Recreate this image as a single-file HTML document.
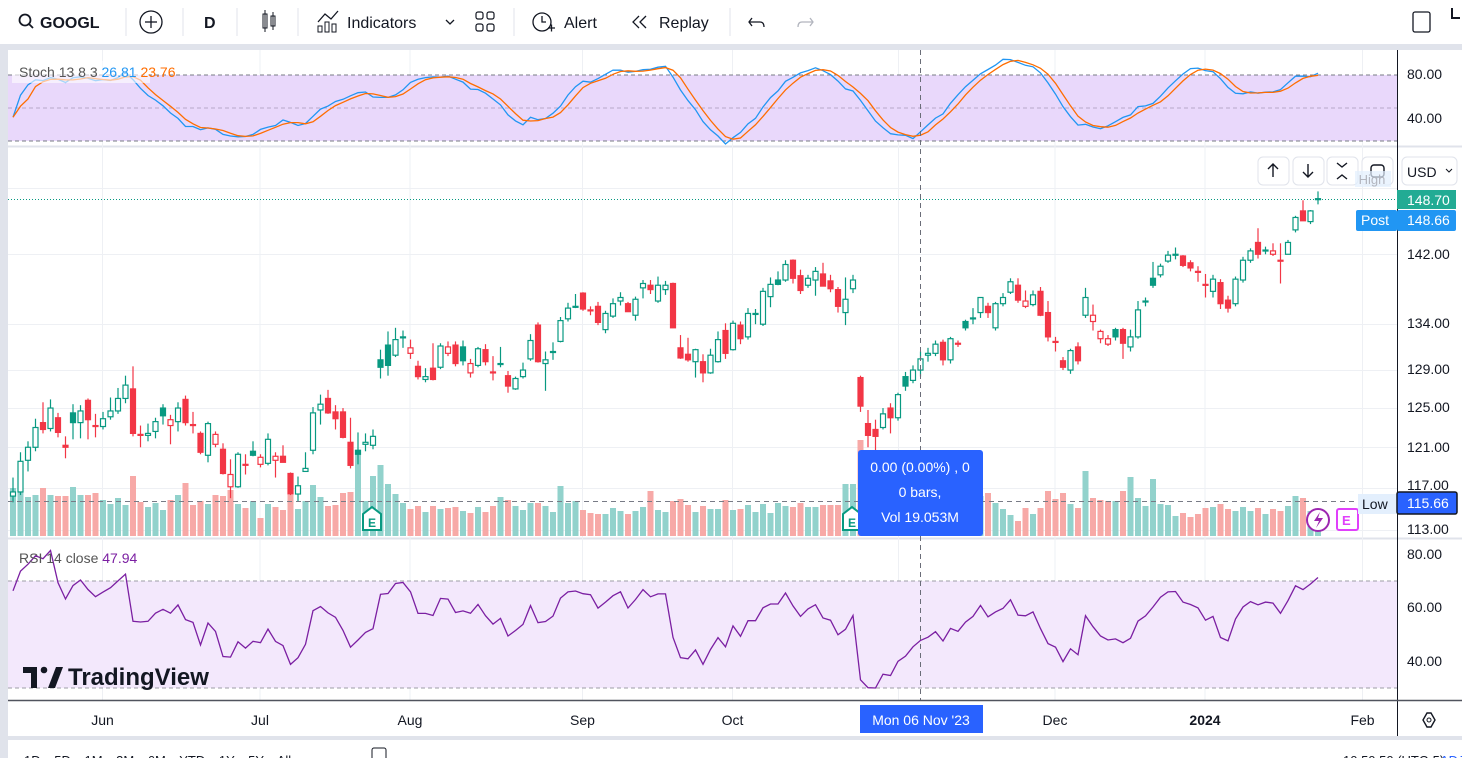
<!DOCTYPE html>
<html><head><meta charset="utf-8"><style>
html,body{margin:0;padding:0;width:1462px;height:758px;overflow:hidden;background:#fff;font-family:"Liberation Sans",sans-serif}
svg text{font-family:"Liberation Sans",sans-serif}
</style></head><body>
<svg id="c" width="1462" height="758" viewBox="0 0 1462 758" xmlns="http://www.w3.org/2000/svg">
<rect x="0" y="0" width="1462" height="758" fill="#fff"/>
<g>
<g><circle cx="25" cy="20" r="5.5" fill="none" stroke="#131722" stroke-width="1.8"/><line x1="29" y1="24" x2="33" y2="28" stroke="#131722" stroke-width="1.8"/><text x="40" y="28" font-size="16" font-weight="bold" fill="#131722">GOOGL</text></g>
<line x1="126" y1="8" x2="126" y2="36" stroke="#e0e3eb"/>
<g><circle cx="151" cy="22" r="11" fill="none" stroke="#131722" stroke-width="1.3"/><line x1="145" y1="22" x2="157" y2="22" stroke="#131722" stroke-width="1.3"/><line x1="151" y1="16" x2="151" y2="28" stroke="#131722" stroke-width="1.3"/></g>
<line x1="183" y1="8" x2="183" y2="36" stroke="#e0e3eb"/>
<text x="204" y="28" font-size="16" font-weight="bold" fill="#131722">D</text>
<line x1="237" y1="8" x2="237" y2="36" stroke="#e0e3eb"/>
<g><rect x="263" y="14" width="4" height="14" fill="none" stroke="#131722"/><line x1="265" y1="10" x2="265" y2="32" stroke="#131722"/><rect x="271" y="16" width="4" height="10" fill="none" stroke="#131722"/><line x1="273" y1="12" x2="273" y2="30" stroke="#131722"/></g>
<line x1="298" y1="8" x2="298" y2="36" stroke="#e0e3eb"/>
<g><path d="M318 22 L325 14 L331 19 L338 11" fill="none" stroke="#131722" stroke-width="1.3"/><rect x="318" y="26" width="4" height="6" fill="none" stroke="#131722"/><rect x="325" y="22" width="4" height="10" fill="none" stroke="#131722"/><rect x="332" y="24" width="4" height="8" fill="none" stroke="#131722"/><text x="347" y="28" font-size="16" fill="#131722">Indicators</text></g>
<path d="M446 20 L450 24 L454 20" fill="none" stroke="#131722" stroke-width="1.3"/>
<g fill="none" stroke="#131722" stroke-width="1.2"><rect x="476" y="12" width="7" height="7" rx="2"/><rect x="487" y="12" width="7" height="7" rx="2"/><rect x="476" y="24" width="7" height="7" rx="2"/><rect x="487" y="24" width="7" height="7" rx="2"/></g>
<line x1="514" y1="8" x2="514" y2="36" stroke="#e0e3eb"/>
<g><circle cx="542" cy="22" r="9" fill="none" stroke="#131722" stroke-width="1.3"/><path d="M542 16 L542 22 L546 22" fill="none" stroke="#131722" stroke-width="1.3"/><path d="M548 28 h7 M551.5 24.5 v7" stroke="#131722" stroke-width="1.3"/><text x="564" y="28" font-size="16" fill="#131722">Alert</text></g>
<g><path d="M639 16 L633 22 L639 28 M646 16 L640 22 L646 28" fill="none" stroke="#131722" stroke-width="1.3"/><text x="659" y="28" font-size="16" fill="#131722">Replay</text></g>
<line x1="730" y1="8" x2="730" y2="36" stroke="#e0e3eb"/>
<path d="M752 18 L749 22 L752 26 M749 22 H760 Q764 22 764 27" fill="none" stroke="#131722" stroke-width="1.3"/>
<path d="M810 18 L813 22 L810 26 M813 22 H802 Q798 22 798 27" fill="none" stroke="#b2b5be" stroke-width="1.3"/>
<rect x="1413" y="12" width="17" height="20" rx="2" fill="none" stroke="#131722" stroke-width="1.3"/>
<path d="M1452 8 V18 H1460" fill="none" stroke="#131722" stroke-width="2"/>
</g>
<rect x="0" y="44" width="1462" height="6" fill="#e0e3eb"/>
<rect x="0" y="44" width="8" height="714" fill="#e0e3eb"/>
<rect x="0" y="736" width="1462" height="4" fill="#e0e3eb"/>
<line x1="8" y1="146.5" x2="1462" y2="146.5" stroke="#e0e3eb" stroke-width="2"/>
<line x1="8" y1="538.5" x2="1462" y2="538.5" stroke="#e0e3eb" stroke-width="2"/>
<g id="grid"></g>
<g>
<rect x="8" y="75" width="1389" height="66" fill="#e9d8fb"/>
<line x1="8" y1="75" x2="1397" y2="75" stroke="#787b86" stroke-dasharray="4 3"/>
<line x1="8" y1="108" x2="1397" y2="108" stroke="#b8a8c8" stroke-dasharray="4 3"/>
<line x1="8" y1="141" x2="1397" y2="141" stroke="#787b86" stroke-dasharray="4 3"/>
<g id="stoch"></g>
<rect x="12" y="61" width="138" height="22" fill="#fff" opacity="0.6"/>
<text x="19" y="77" font-size="14" fill="#555">Stoch 13 8 3 <tspan fill="#2196f3">26.81</tspan> <tspan fill="#ff6d00">23.76</tspan></text>
</g>
<g>
<rect x="8" y="581" width="1389" height="107" fill="#f3e8fc"/>
<line x1="8" y1="581" x2="1397" y2="581" stroke="#9e9ea6" stroke-dasharray="4 3"/>
<line x1="8" y1="688" x2="1397" y2="688" stroke="#9e9ea6" stroke-dasharray="4 3"/>
<g id="rsi"></g>
<text x="19" y="563" font-size="14" fill="#555">RSI 14 close <tspan fill="#7b1fa2">47.94</tspan></text>
<g><path d="M23 667 H37 V688 H31 V673 H23 Z" fill="#131722"/><circle cx="44" cy="670" r="3.3" fill="#131722"/><path d="M48 688 L56 667 H63 L55 688 Z" fill="#131722"/><text x="68" y="685" font-size="24" font-weight="bold" fill="#131722">TradingView</text></g>
</g>
<g id="vol"></g>
<g id="candles"></g>
<line x1="8" y1="199.5" x2="1397" y2="199.5" stroke="#089981" stroke-dasharray="1 2"/>
<line x1="8" y1="501.5" x2="1397" y2="501.5" stroke="#787b86" stroke-dasharray="5 4"/>
<line x1="920.5" y1="50" x2="920.5" y2="700" stroke="#6a6d78" stroke-dasharray="5 4"/>
<g><path d="M363 514 L372 507 L381 514 V530 H363 Z" fill="#fff" stroke="#089981" stroke-width="2"/><text x="368" y="527" font-size="12" font-weight="bold" fill="#089981">E</text></g>
<g><path d="M843 514 L852 507 L861 514 V530 H843 Z" fill="#fff" stroke="#089981" stroke-width="2"/><text x="848" y="527" font-size="12" font-weight="bold" fill="#089981">E</text></g>
<g><circle cx="1318" cy="520" r="11" fill="#fff" stroke="#9c27b0" stroke-width="2"/><path d="M1320 512 L1314 521 H1319 L1316 528 L1323 518 H1318 Z" fill="#9c27b0"/></g>
<g><rect x="1337" y="509" width="21" height="21" rx="2" fill="#fff" stroke="#e040fb" stroke-width="2"/><text x="1342" y="525" font-size="13" font-weight="bold" fill="#e040fb">E</text></g>
<g><rect x="858" y="450" width="125" height="86" rx="3" fill="#2962ff"/><text x="920" y="472" font-size="14" fill="#fff" text-anchor="middle">0.00 (0.00%) , 0</text><text x="920" y="497" font-size="14" fill="#fff" text-anchor="middle">0 bars,</text><text x="920" y="522" font-size="14" fill="#fff" text-anchor="middle">Vol 19.053M</text></g>
<g fill="#fff" stroke="#e0e3eb">
<rect x="1258" y="157" width="31" height="28" rx="5"/>
<rect x="1293" y="157" width="31" height="28" rx="5"/>
<rect x="1327" y="157" width="31" height="28" rx="5"/>
<rect x="1362" y="157" width="31" height="28" rx="5"/>
</g>
<g stroke="#131722" stroke-width="1.4" fill="none"><path d="M1273 177 V164 M1268 169 L1273 164 L1278 169"/><path d="M1308 164 V177 M1303 172 L1308 177 L1313 172"/><path d="M1337 163 L1342 167 L1347 163 M1337 179 L1342 175 L1347 179"/><rect x="1371" y="165" width="13" height="12" rx="3"/></g>
<rect x="1355" y="171" width="36" height="16" fill="#e3effd" opacity="0.7"/><text x="1372" y="184" font-size="13" fill="#b2b5be" text-anchor="middle">High</text>
<line x1="1397.5" y1="50" x2="1397.5" y2="736" stroke="#131722" stroke-width="1"/>
<g font-size="14" fill="#131722">
<rect x="1402" y="157" width="55" height="28" rx="5" fill="#fff" stroke="#e0e3eb"/><text x="1407" y="177" font-size="14" fill="#131722">USD</text><path d="M1446 169 L1449 172 L1452 169" stroke="#131722" fill="none"/>
<text x="1407" y="79">80.00</text><text x="1407" y="123">40.00</text>
<text x="1407" y="259">142.00</text><text x="1407" y="328">134.00</text><text x="1407" y="374">129.00</text><text x="1407" y="412">125.00</text><text x="1407" y="452">121.00</text><text x="1407" y="490">117.00</text><text x="1407" y="534">113.00</text>
<text x="1407" y="559">80.00</text><text x="1407" y="612">60.00</text><text x="1407" y="666">40.00</text>
</g>
<rect x="1397" y="190" width="59" height="19" fill="#22ab94"/><text x="1407" y="205" font-size="14" fill="#fff">148.70</text>
<rect x="1356" y="210" width="41" height="21" rx="2" fill="#2196f3"/><text x="1361" y="225" font-size="14" fill="#fff">Post</text>
<rect x="1397" y="210" width="59" height="21" rx="2" fill="#2196f3"/><text x="1407" y="225" font-size="14" fill="#fff">148.66</text>
<rect x="1358" y="494" width="39" height="20" fill="#e3effd"/><text x="1362" y="509" font-size="14" fill="#131722">Low</text>
<rect x="1397" y="492" width="60" height="22" rx="2" fill="#2962ff" stroke="#131722" stroke-width="1.5"/><text x="1407" y="508" font-size="14" fill="#fff">115.66</text>
<line x1="8" y1="700.5" x2="1462" y2="700.5" stroke="#50535e" stroke-width="1.5"/>
<g id="timeaxis" font-size="14" fill="#131722" text-anchor="middle"></g>
<rect x="860" y="705" width="123" height="28" fill="#2962ff"/><text x="921" y="725" font-size="14" fill="#fff" text-anchor="middle">Mon 06 Nov '23</text>
<g><path d="M1423 720 L1427 713 L1431 713 L1435 720 L1431 727 L1427 727 Z" fill="none" stroke="#131722" stroke-width="1.4"/><circle cx="1429" cy="720" r="2" fill="none" stroke="#131722"/></g>
<g font-size="13" fill="#131722">
<text x="24" y="765" word-spacing="10">1D 5D 1M 3M 6M YTD 1Y 5Y All</text>
<rect x="372" y="748" width="14" height="12" rx="2" fill="none" stroke="#131722"/>
<text x="1343" y="765">10:50:50 (UTC-5)</text>
<text x="1440" y="765" fill="#2962ff">ADJ</text>
</g>
</svg>
<script>
const opens=[116.2,116.6,119.7,121.0,123.5,122.9,124.0,121.2,124.5,123.5,125.8,123.2,123.1,124.1,124.7,126.0,127.0,122.3,122.2,122.6,125.0,123.2,123.6,125.9,123.3,122.4,120.2,121.3,120.8,117.1,117.1,119.3,120.6,119.3,119.4,119.7,120.1,118.4,116.4,118.6,120.7,124.8,126.0,124.6,124.6,121.5,120.7,121.3,121.2,130.1,131.7,130.6,132.5,130.8,129.4,128.0,129.2,129.3,130.8,131.7,131.5,128.7,129.5,131.2,128.8,129.7,128.4,127.0,128.3,130.2,133.9,129.7,131.0,132.1,134.6,136.0,137.5,135.5,136.0,133.4,134.9,136.6,136.3,135.0,138.1,138.4,136.6,137.9,138.6,131.4,130.7,129.9,129.9,128.7,129.9,133.3,131.2,133.9,132.6,135.2,134.0,137.1,139.0,139.0,141.3,139.5,138.4,139.0,139.7,138.9,137.9,135.3,138.0,128.2,123.4,122.8,123.0,125.0,124.0,128.3,127.9,129.0,130.6,130.8,132.0,130.1,131.8,134.3,134.7,135.3,136.0,133.6,136.3,137.6,138.4,136.0,136.2,137.7,135.3,132.1,130.0,129.0,131.5,135.0,134.3,132.4,131.8,133.4,133.4,131.5,132.6,136.6,139.2,139.6,141.2,142.0,141.8,141.0,140.0,138.5,137.7,138.7,136.7,136.3,139.0,141.3,143.4,142.5,142.0,141.3,142.0,144.9,147.2,145.9,148.6];
const highs=[118,120.5,121.6,123.9,125.6,125.9,124.5,122.1,125.4,125.3,126.0,124.4,124.6,126.1,127.1,128.4,129.4,123.2,123.4,124.0,125.4,124.3,125.6,126.3,124.6,122.6,123.6,122.6,121.4,119.8,120.5,120.3,121.6,120.3,122.4,120.5,121.2,118.5,118.1,120.5,125.1,126.4,126.9,125.3,125.0,124.0,122.5,122.4,122.8,131.2,133.2,133.6,133.3,132.3,130.0,129.2,131.9,131.9,132.1,132.1,132.2,130.2,131.5,131.8,130.5,131.5,128.9,128.3,129.8,132.9,134.2,131.0,132.0,134.8,136.4,137.4,137.6,136.0,136.5,135.5,136.9,137.6,136.5,137.1,139.0,139.0,139.4,138.9,138.7,132.8,132.5,131.3,130.7,131.3,133.2,134.1,134.4,134.3,135.8,135.7,138.1,139.3,140.0,141.3,141.4,140.2,139.6,140.5,141.0,139.6,138.2,139.3,139.6,128.4,124.8,123.8,125.0,125.5,126.6,128.8,129.5,131.0,131.4,132.2,132.3,132.6,132.2,134.5,135.8,137.0,136.4,136.5,137.5,139.2,139.2,137.8,137.8,138.2,136.6,132.6,130.4,131.3,132.0,138.1,136.2,133.4,132.8,133.6,133.6,133.4,136.6,137.0,141.1,140.9,142.4,142.8,141.9,141.3,140.6,139.7,139.6,139.1,137.2,139.4,141.7,142.7,145.1,142.9,143.3,143.3,143.7,146.6,148.5,147.3,149.6];
const lows=[115.6,116.3,118.6,120.6,122.4,122.6,122.0,119.9,121.8,121.9,121.8,122.0,122.8,123.8,124.4,125.5,122.1,121.0,121.6,121.9,123.3,121.3,122.6,123.2,122.4,120.3,119.5,121.0,118.3,116.0,117.0,118.3,120.1,119.0,119.2,118.0,119.5,116.3,115.7,118.6,120.3,123.3,124.4,122.8,121.9,118.9,119.3,120.6,120.8,128.1,128.4,130.4,131.4,130.2,128.0,127.7,127.9,129.1,130.5,129.4,129.5,128.2,129.3,129.5,127.9,129.3,126.6,126.9,128.1,130.0,129.8,126.8,130.1,132.0,134.3,135.8,135.5,135.0,133.9,133.0,134.7,136.1,135.4,134.4,136.9,137.4,136.4,137.3,133.6,130.2,129.9,128.2,127.7,128.6,129.8,130.2,131.1,131.8,132.3,134.0,133.8,135.9,138.4,138.8,138.6,137.4,138.1,137.2,138.4,137.6,135.3,133.9,137.5,124.6,121.0,119.5,122.8,122.4,123.7,126.8,127.6,128.3,129.9,130.5,129.5,129.7,131.5,133.3,134.0,134.7,134.7,133.3,136.0,137.4,136.4,135.8,136.0,134.9,132.1,131.0,129.0,128.6,129.6,134.7,133.3,131.9,131.6,132.2,130.2,131.0,132.4,136.0,138.1,139.3,141.0,141.4,140.5,140.0,138.8,137.0,137.0,135.7,135.3,136.0,138.7,141.0,141.5,142.0,141.8,138.6,142.0,144.6,146.0,145.6,148.0];
const closes=[116.6,119.6,121.0,123.0,122.8,125.0,122.5,121.0,123.5,124.7,123.8,123.1,123.9,124.7,126.0,127.4,122.4,122.3,122.4,123.6,124.2,123.8,125.0,123.5,123.2,120.5,123.4,122.3,118.4,118.3,120.3,119.3,120.2,120.0,121.8,120.1,119.5,116.4,117.2,118.9,124.5,125.4,124.5,123.9,122.0,119.2,120.3,121.5,122.1,129.3,129.5,132.3,132.6,131.4,128.3,128.3,128.0,131.6,131.5,129.7,130.0,129.7,131.3,129.9,128.8,129.7,127.3,128.1,129.0,132.2,129.9,130.1,131.0,134.4,135.8,136.0,135.7,135.6,134.2,135.2,136.3,137.0,135.4,136.8,138.6,137.9,138.4,138.4,133.6,130.3,130.1,131.2,128.7,130.6,132.3,130.8,134.1,132.4,135.2,135.2,137.7,138.5,138.5,140.8,139.2,137.8,139.2,140.0,138.3,138.0,136.0,136.8,139.0,125.2,122.2,122.1,124.4,124.0,126.4,127.3,129.0,130.2,130.8,131.8,130.1,132.4,131.9,133.6,134.7,137.0,135.3,136.3,137.0,138.8,136.7,136.6,137.3,135.0,132.6,132.0,129.3,131.1,130.0,137.0,135.0,133.2,132.4,132.6,131.9,132.6,135.6,136.6,138.4,140.6,141.9,142.0,140.7,140.4,140.0,138.5,139.1,136.3,135.8,139.1,141.3,142.4,142.0,142.5,142.4,141.3,143.4,146.4,146.0,147.2,148.7];
const volumes=[48,52,39,41,48,41,40,40,49,41,41,43,36,32,38,31,60,34,29,33,26,36,41,53,31,35,32,41,40,46,32,28,35,18,32,29,26,41,27,35,51,39,30,31,43,44,82,35,60,71,52,42,33,27,30,24,30,27,28,29,25,23,29,24,30,39,36,30,26,33,33,30,24,50,33,35,26,23,22,22,28,25,22,25,29,45,26,24,35,37,31,24,30,27,27,36,26,27,31,24,32,23,33,30,29,33,29,29,31,31,31,52,52,96,60,50,45,40,38,42,45,40,36,38,35,34,40,38,35,40,43,33,27,21,15,28,22,28,45,37,43,32,28,65,38,36,35,35,45,59,38,30,57,32,31,20,23,19,22,28,29,32,27,25,29,25,28,22,27,25,30,40,38,25,15];
const monthLabels=["Jun","Jul","Aug","Sep","Oct","Dec","2024","Feb"];
const monthBars=[12,33,53,76,96,139,159,180];
const priceTicks=[150,142,134,129,125,121,117,113];

const NS="http://www.w3.org/2000/svg";
const xOf=i=>13+i*7.5;
const yP=p=>6231-1206*Math.log(p);
const yV=v=>536-v;
const yS=s=>141-(s-20)*1.1;
const yR=r=>554+(80-r)*2.68;
function mk(tag,attrs,parent){const e=document.createElementNS(NS,tag);for(const k in attrs)e.setAttribute(k,attrs[k]);parent.appendChild(e);return e;}
const grid=document.getElementById('grid');
priceTicks.forEach(p=>{const l=mk('line',{x1:8,x2:1397,y1:Math.round(yP(p))+0.5,y2:Math.round(yP(p))+0.5,stroke:'#eef0f4'},grid);

});
const ta=document.getElementById('timeaxis');
monthBars.forEach((b,k)=>{const x=xOf(b)-0.5;
const l=mk('line',{x1:x,x2:x,y1:50,y2:700,stroke:'#eef0f4'},grid);


const t=mk('text',{x:x,y:725,'font-weight':monthLabels[k]==='2024'?'bold':'normal'},ta);t.textContent=monthLabels[k];

});
const ng=mk('line',{x1:898.5,x2:898.5,y1:50,y2:700,stroke:'#eef0f4'},grid);


const vg=document.getElementById('vol'),cg=document.getElementById('candles');
const N=closes.length;
for(let i=0;i<N;i++){
 const up=i===0?closes[i]>=opens[i]:closes[i]>=closes[i-1];
 const col=up?'#089981':'#f23645';
 const x=xOf(i);
 const v=mk('rect',{x:x-3,y:yV(volumes[i]),width:6,height:volumes[i],fill:up?'#92d2cc':'#f7a9a7'},vg);
 
 
 const w=mk('line',{x1:x,x2:x,y1:yP(highs[i]),y2:yP(lows[i]),stroke:col,'stroke-width':1.2},cg);
 
 
 const top=yP(Math.max(opens[i],closes[i])),bot=yP(Math.min(opens[i],closes[i]));
 const hollow=closes[i]>opens[i];
 const b=mk('rect',{x:x-2.5,y:top,width:5,height:Math.max(1,bot-top),fill:hollow?'#fff':col,stroke:col,'stroke-width':1.2},cg);
 
 
}
const raw=[],K=[],D=[];
for(let i=0;i<N;i++){let hh=-1e9,ll=1e9;for(let j=Math.max(0,i-12);j<=i;j++){hh=Math.max(hh,highs[j]);ll=Math.min(ll,lows[j]);}
 raw.push(hh>ll?(closes[i]-ll)/(hh-ll)*100:50);}
for(let i=0;i<N;i++){let s=0,c=0;for(let j=Math.max(0,i-7);j<=i;j++){s+=raw[j];c++;}K.push(s/c);}
for(let i=0;i<N;i++){let s=0,c=0;for(let j=Math.max(0,i-2);j<=i;j++){s+=K[j];c++;}D.push(s/c);}
const sg=document.getElementById('stoch');
const pts=a=>a.map((v,i)=>xOf(i).toFixed(1)+','+yS(v).toFixed(1)).join(' ');
const kl=mk('polyline',{points:pts(K),fill:'none',stroke:'#2196f3','stroke-width':1.3},sg);


const dl=mk('polyline',{points:pts(D),fill:'none',stroke:'#ff6d00','stroke-width':1.3},sg);


// RSI 14 (Wilder), seeded with prior averages
const R=[];let ag=0.55,al=0.28;
for(let i=0;i<N;i++){
 if(i>0){const ch=closes[i]-closes[i-1],g=Math.max(ch,0),l=Math.max(-ch,0);
 ag=(ag*13+g)/14;al=(al*13+l)/14;}
 R.push(al===0?100:100-100/(1+ag/al));
}
const rl=mk('polyline',{points:R.map((v,i)=>xOf(i).toFixed(1)+','+yR(v).toFixed(1)).join(' '),fill:'none',stroke:'#7b1fa2','stroke-width':1.3},document.getElementById('rsi'));


</script>
</body></html>
